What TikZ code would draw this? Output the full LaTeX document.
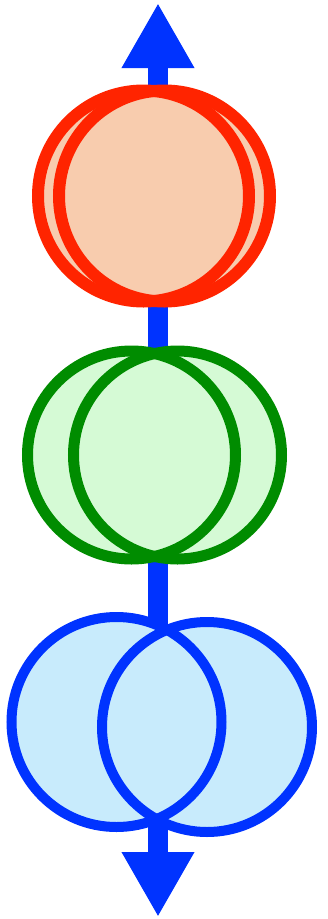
\documentclass[tikz,border=0pt]{standalone}
\usetikzlibrary{arrows.meta}
\definecolor{rline}{RGB}{255,36,0}
\definecolor{rfill}{RGB}{248,204,174}
\definecolor{gline}{RGB}{0,140,0}
\definecolor{gfill}{RGB}{213,250,213}
\definecolor{bline}{RGB}{0,51,255}
\definecolor{bfill}{RGB}{200,235,252}
\begin{document}
\begin{tikzpicture}[x=1pt,y=-1pt,
  lobe/.style={circle,minimum size=#1,inner sep=0pt,outer sep=0pt},
  shaft/.style={line width=20pt,draw=bline,{Triangle[length=65pt,width=68pt]}-{Triangle[length=65pt,width=68pt]}}]
\useasboundingbox (0,0) rectangle (328,919);
\coordinate (top) at (158,3);
\coordinate (bot) at (158,917);
\draw[shaft] (top) -- (bot);
% red pair
\node[lobe=211pt,fill=rfill] (r1) at (143.5,196) {};
\node[lobe=211pt,fill=rfill] (r2) at (164.5,196) {};
\node[lobe=211pt,draw=rline,line width=12pt] at (r1) {};
\node[lobe=211pt,draw=rline,line width=12pt] at (r2) {};
% green pair
\node[lobe=208pt,fill=gfill] (g1) at (131.5,455) {};
\node[lobe=208pt,fill=gfill] (g2) at (177.5,455) {};
\node[lobe=208pt,draw=gline,line width=11pt] at (g1) {};
\node[lobe=208pt,draw=gline,line width=11pt] at (g2) {};
% blue pair
\node[lobe=210pt,fill=bfill] (b1) at (116.5,722) {};
\node[lobe=210pt,fill=bfill] (b2) at (207,727) {};
\node[lobe=210pt,draw=bline,line width=10pt] at (b1) {};
\node[lobe=210pt,draw=bline,line width=10pt] at (b2) {};
\end{tikzpicture}
\end{document}
